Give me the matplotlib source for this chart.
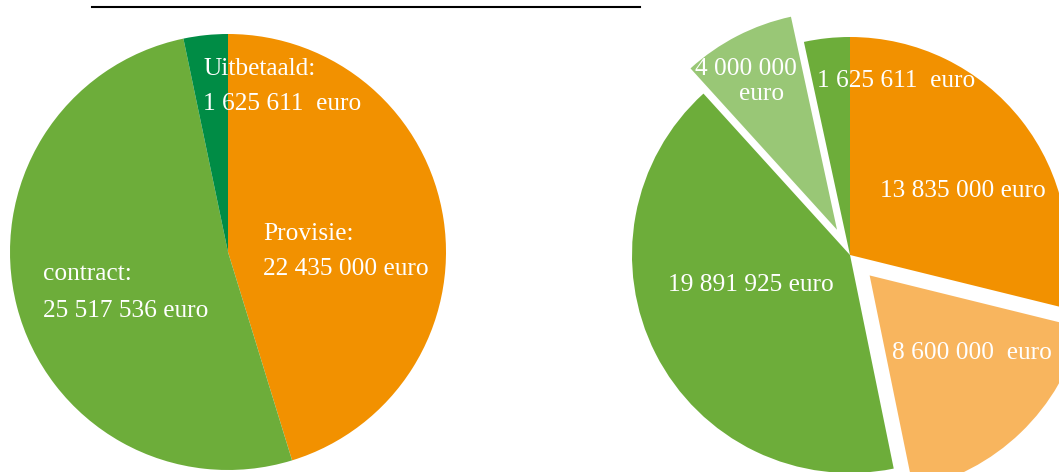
import matplotlib
matplotlib.use("Agg")
import matplotlib.pyplot as plt

# ---- data ----
left_labels = ["Uitbetaald", "Provisie", "contract"]
left_values = [1625611, 22435000, 25517536]
left_colors = ["#008C45", "#F29100", "#6DAD3A"]

right_values = [13835000, 8600000, 19891925, 4000000, 1625611]
right_colors = ["#F29100", "#F8B55E", "#6DAD3A", "#99C776", "#6DAD3A"]
right_explode = [0, 0.13, 0, 0.13, 0]

W, H = 1059, 472
R = 218
fig = plt.figure(figsize=(W / 100, H / 100), dpi=100)
ax = fig.add_axes([0, 0, 1, 1])

def py(y):
    return H - y

ax.pie([left_values[1], left_values[2], left_values[0]],
       colors=[left_colors[1], left_colors[2], left_colors[0]],
       startangle=90, counterclock=False,
       center=(228, py(252)), radius=R,
       wedgeprops=dict(linewidth=0), frame=True)

# matplotlib's explode is in data units, so scale by radius
ax.pie(right_values, colors=right_colors,
       explode=[e * R for e in right_explode],
       startangle=90, counterclock=False,
       center=(850, py(255)), radius=R,
       wedgeprops=dict(linewidth=0), frame=True)

ax.set_xlim(0, W)
ax.set_ylim(0, H)
ax.set_aspect("equal")
ax.axis("off")

font = dict(family="Liberation Serif", color="white", fontsize=18.3, va="baseline")

# left labels
ax.text(203, py(75), "Uitbetaald:", ha="left", **font)
ax.text(203, py(110), "1 625 611  euro", ha="left", **font)
ax.text(263, py(240), "Provisie:", ha="left", **font)
ax.text(263, py(275), "22 435 000 euro", ha="left", **font)
ax.text(43, py(280), "contract:", ha="left", **font)
ax.text(43, py(317), "25 517 536 euro", ha="left", **font)

# right labels
ax.text(746, py(75), "4 000 000", ha="center", **font)
ax.text(762, py(100), "euro", ha="center", **font)
ax.text(817, py(87), "1 625 611  euro", ha="left", **font)
ax.text(880, py(197), "13 835 000 euro", ha="left", **font)
ax.text(668, py(291), "19 891 925 euro", ha="left", **font)
ax.text(892, py(359), "8 600 000  euro", ha="left", **font)

# top underline (cut-off heading)
ax.plot([92, 640], [py(7), py(7)], color="black", linewidth=1.5)

fig.savefig("out.png", dpi=100)
